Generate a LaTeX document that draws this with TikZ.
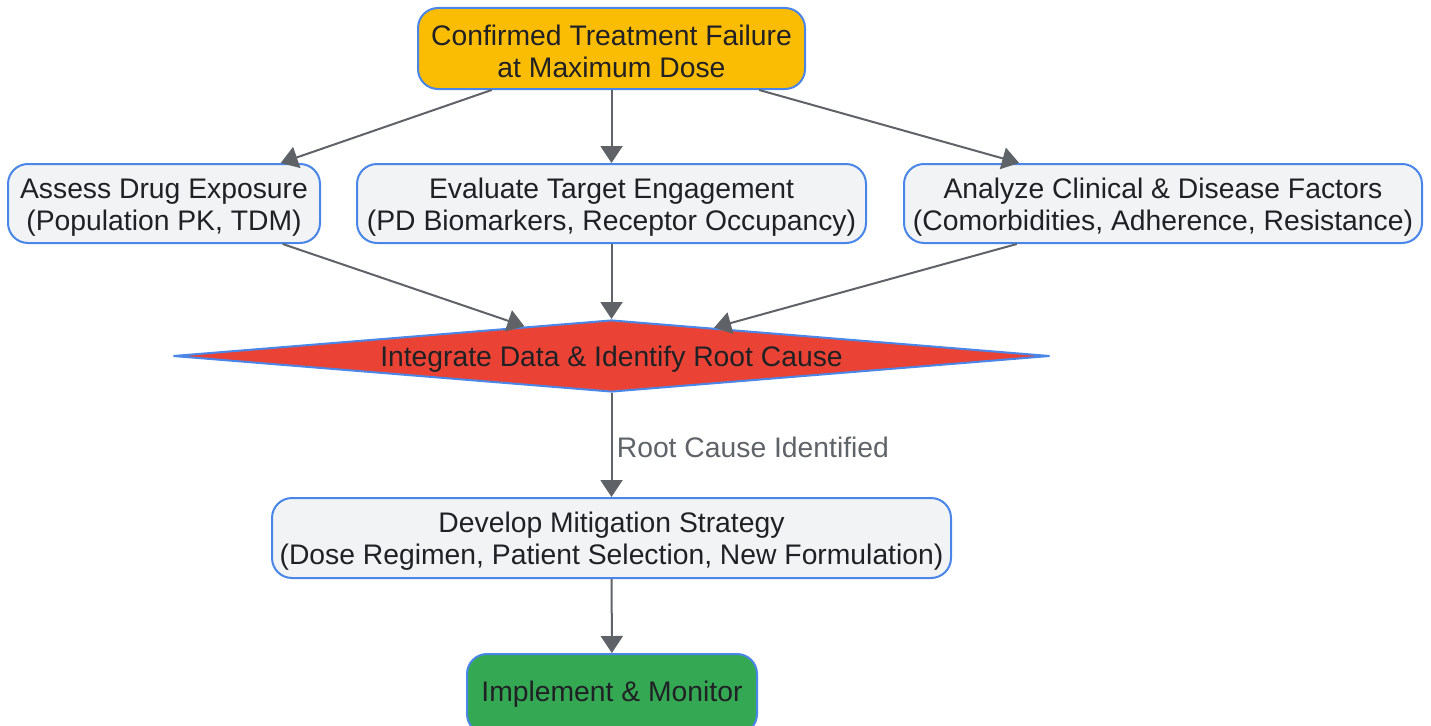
\documentclass[tikz,border=0pt]{standalone}
\usepackage{fontspec}
\setmainfont{Liberation Sans}
\usetikzlibrary{shapes.geometric,arrows.meta}
\definecolor{bordblue}{HTML}{4A86E8}
\definecolor{amber}{HTML}{FBBC04}
\definecolor{boxgray}{HTML}{F1F3F4}
\definecolor{redfill}{HTML}{EA4335}
\definecolor{greenfill}{HTML}{34A853}
\definecolor{linegray}{HTML}{5F6368}
\definecolor{txt}{HTML}{202124}
\newcommand{\lowstrut}{\rule{0pt}{27pt}}
\begin{document}
\begin{tikzpicture}[x=1pt,y=-1pt,
  lab/.style={font=\fontsize{28.3}{32}\selectfont},
  box/.style={draw=bordblue, line width=2pt, rounded corners=20pt, align=center,
    inner sep=0pt, text=txt, lab},
  graybox/.style={box, fill=boxgray},
  conn/.style={draw=linegray, line width=2pt, -{Triangle[length=17pt,width=22pt]}}
]
\useasboundingbox (0,0) rectangle (1431,725);
\node[box, fill=amber, minimum width=387pt, minimum height=81pt] (top) at (611.5,48.5)
  {\lowstrut Confirmed Treatment Failure\\at Maximum Dose};
\node[graybox, minimum width=312pt, minimum height=79pt] (assess) at (164,203.5)
  {\lowstrut Assess Drug Exposure\\(Population PK, TDM)};
\node[graybox, minimum width=509pt, minimum height=79pt] (eval) at (611.5,203.5)
  {\lowstrut Evaluate Target Engagement\\(PD Biomarkers, Receptor Occupancy)};
\node[graybox, minimum width=518pt, minimum height=79pt] (analyze) at (1163,203.5)
  {\lowstrut Analyze Clinical \& Disease Factors\\(Comorbidities, Adherence, Resistance)};
\node[diamond, aspect=12, draw=bordblue, line width=2pt, fill=redfill, inner sep=0pt,
  minimum width=877pt, minimum height=72pt, text=txt, lab] (integ) at (611.5,356)
  {\lowstrut Integrate Data \& Identify Root Cause};
\node[graybox, minimum width=679pt, minimum height=80pt] (develop) at (611.5,538)
  {\lowstrut Develop Mitigation Strategy\\(Dose Regimen, Patient Selection, New Formulation)};
\node[box, fill=greenfill, minimum width=290pt, minimum height=80pt] (impl) at (612,694)
  {Implement \& Monitor};
\draw[conn] (top) -- (assess);
\draw[conn] (top) -- (eval);
\draw[conn] (top) -- (analyze);
\draw[conn] (assess) -- (integ);
\draw[conn] (eval) -- (integ);
\draw[conn] (analyze) -- (integ);
\draw[conn] (integ) -- node[right=1pt, pos=0.52, text=linegray, lab] (lbl) {Root Cause Identified} (develop);
\draw[conn] (develop) -- (impl);
\end{tikzpicture}
\end{document}
